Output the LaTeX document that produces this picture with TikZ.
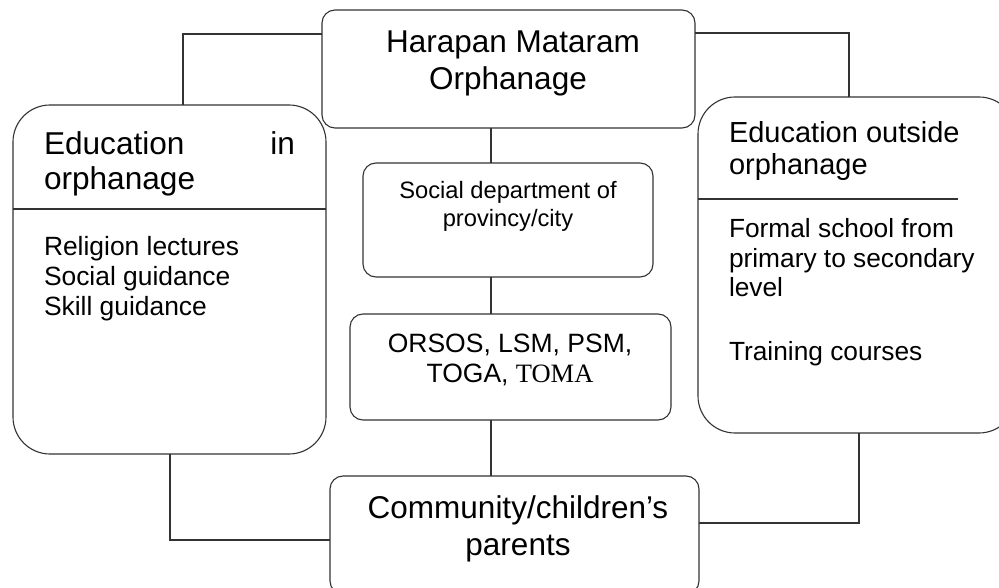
\documentclass[tikz,border=0pt]{standalone}
\usepackage{fontspec}
\setmainfont{Liberation Sans}
\newfontfamily\timesfont{Liberation Serif}
\begin{document}
\begin{tikzpicture}[x=1pt,y=-1pt,
  box/.style={draw=black!80, line width=1.1pt, inner sep=0pt, outer sep=0pt, anchor=north west},
  smallr/.style={rounded corners=13pt},
  bigr/.style={rounded corners=37pt},
  conn/.style={draw=black!80, line width=1.1pt},
  lbl/.style={inner sep=0pt, outer sep=0pt},
  fA/.style={font=\fontsize{31.5}{36}\selectfont},
  fB/.style={font=\fontsize{31.6}{36}\selectfont},
  fC/.style={font=\fontsize{26.4}{30}\selectfont},
  fD/.style={font=\fontsize{23.7}{27}\selectfont},
  fE/.style={font=\fontsize{26.5}{30}\selectfont},
  fF/.style={font=\fontsize{29}{32}\selectfont},
  fG/.style={font=\fontsize{26.3}{30}\selectfont}]
\clip (0,0) rectangle (999,588);
\fill[white] (0,0) rectangle (999,588);
% boxes
\node[box, smallr, minimum width=373pt, minimum height=118pt] (top) at (322,10) {};
\node[box, bigr, minimum width=313pt, minimum height=349pt] (left) at (13,105) {};
\node[box, smallr, minimum width=290pt, minimum height=114pt] (social) at (363,163) {};
\node[box, smallr, minimum width=321pt, minimum height=106pt] (orsos) at (350,314) {};
\node[box, bigr, minimum width=318pt, minimum height=336pt] (right) at (698,97) {};
\node[box, smallr, minimum width=369pt, minimum height=118pt] (bottom) at (330,476) {};
% dividers
\coordinate (ldiv) at (13,209);
\draw[conn] (ldiv) -- (ldiv -| left.east);
\coordinate (rdiv) at (698,199);
\coordinate (rdivend) at (958,199);
\draw[conn] (rdiv) -- (rdivend);
% texts
\node[lbl, fA, anchor=base] (t1) at (513,53) {Harapan Mataram};
\node[lbl, fA, anchor=base] (t2) at (508,90) {Orphanage};
\node[lbl, fB, anchor=base west] (l1) at (44,155) {Education};
\node[lbl, fB, anchor=base east] (l2) at (295,155) {in};
\node[lbl, fB, anchor=base west] (l3) at (44,190) {orphanage};
\node[lbl, fC, anchor=base west] (l4) at (44,255) {Religion lectures};
\node[lbl, fC, anchor=base west] (l5) at (44,285) {Social guidance};
\node[lbl, fC, anchor=base west] (l6) at (44,316) {Skill guidance};
\node[lbl, fD, anchor=base] (s1) at (508,199) {Social department of};
\node[lbl, fD, anchor=base] (s2) at (508,227) {provincy/city};
\node[lbl, fE, anchor=base] (o1) at (510,352) {ORSOS, LSM, PSM,};
\node[lbl, fE, anchor=base] (o2) at (510,382) {TOGA, {\timesfont TOMA}};
\node[lbl, fF, anchor=base west] (r1) at (729,143) {Education outside};
\node[lbl, fF, anchor=base west] (r2) at (729,175) {orphanage};
\node[lbl, fG, anchor=base west] (r3) at (729,238) {Formal school from};
\node[lbl, fG, anchor=base west] (r4) at (729,268) {primary to secondary};
\node[lbl, fG, anchor=base west] (r5) at (729,297) {level};
\node[lbl, fG, anchor=base west] (r6) at (729,360) {Training courses};
\node[lbl, fA, anchor=base] (b1) at (518,518) {Community/children’s};
\node[lbl, fA, anchor=base] (b2) at (518,555) {parents};
% connectors
\coordinate (c1) at (183,34);
\draw[conn] (top.west |- c1) -- (c1) -- (c1 |- left.north);
\coordinate (c2) at (849,33);
\draw[conn] (top.east |- c2) -- (c2) -- (c2 |- right.north);
\coordinate (cx) at (491,0);
\draw[conn] (cx |- top.south) -- (cx |- social.north);
\draw[conn] (cx |- social.south) -- (cx |- orsos.north);
\draw[conn] (cx |- orsos.south) -- (cx |- bottom.north);
\coordinate (c3) at (170,540);
\draw[conn] (c3 |- left.south) -- (c3) -- (c3 -| bottom.west);
\coordinate (c4) at (859,523);
\draw[conn] (c4 |- right.south) -- (c4) -- (c4 -| bottom.east);
\end{tikzpicture}
\end{document}
